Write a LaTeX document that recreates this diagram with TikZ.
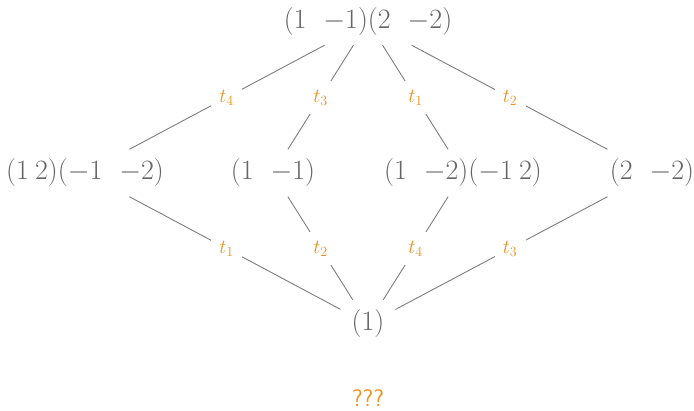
\RequirePackage{fix-cm}
\documentclass[tikz,border=0pt]{standalone}
\definecolor{txt}{RGB}{100,100,100}
\definecolor{ln}{RGB}{125,125,125}
\definecolor{org}{RGB}{240,145,30}
\newcommand{\smsp}{\mkern4mu}
\newcommand{\wsp}{\ \ }
\begin{document}
\begin{tikzpicture}[x=1pt,y=-1pt,
  vtx/.style={inner xsep=11pt, inner ysep=0pt, minimum height=47pt, text=txt,
    font=\fontsize{28}{32}\selectfont},
  edge/.style={draw=ln, line width=0.9pt},
  lbl/.style={fill=white, text=org, inner sep=0pt, minimum width=31pt,
    minimum height=33pt, font=\fontsize{20}{24}\selectfont},
  qq/.style={text=org, font=\fontsize{24}{28}\selectfont\sffamily}]
\useasboundingbox (0,0) rectangle (694,411);
\node[vtx, minimum height=46pt] (top) at (368,22) {$(1\wsp{-1})(2\wsp{-2})$};
\node[vtx] (ma) at (85,173) {$(1\smsp 2)({-1}\wsp{-2})$};
\node[vtx] (mb) at (273,173) {$(1\wsp{-1})$};
\node[vtx] (mc) at (463,173) {$(1\wsp{-2})({-1}\smsp 2)$};
\node[vtx] (md) at (652,173) {$(2\wsp{-2})$};
\node[vtx, minimum height=48pt] (bot) at (368,324) {$(1)$};
\node[qq] (q) at (368,398) {???};
\draw[edge] (top) -- (ma);
\draw[edge] (top) -- (mb);
\draw[edge] (top) -- (mc);
\draw[edge] (top) -- (md);
\draw[edge] (ma) -- (bot);
\draw[edge] (mb) -- (bot);
\draw[edge] (mc) -- (bot);
\draw[edge] (md) -- (bot);
\path (top.center) -- node[lbl] {$t_4$} (ma.center);
\path (top.center) -- node[lbl] {$t_3$} (mb.center);
\path (top.center) -- node[lbl] {$t_1$} (mc.center);
\path (top.center) -- node[lbl] {$t_2$} (md.center);
\path (ma.center) -- node[lbl] {$t_1$} (bot.center);
\path (mb.center) -- node[lbl] {$t_2$} (bot.center);
\path (mc.center) -- node[lbl] {$t_4$} (bot.center);
\path (md.center) -- node[lbl] {$t_3$} (bot.center);
\end{tikzpicture}
\end{document}
